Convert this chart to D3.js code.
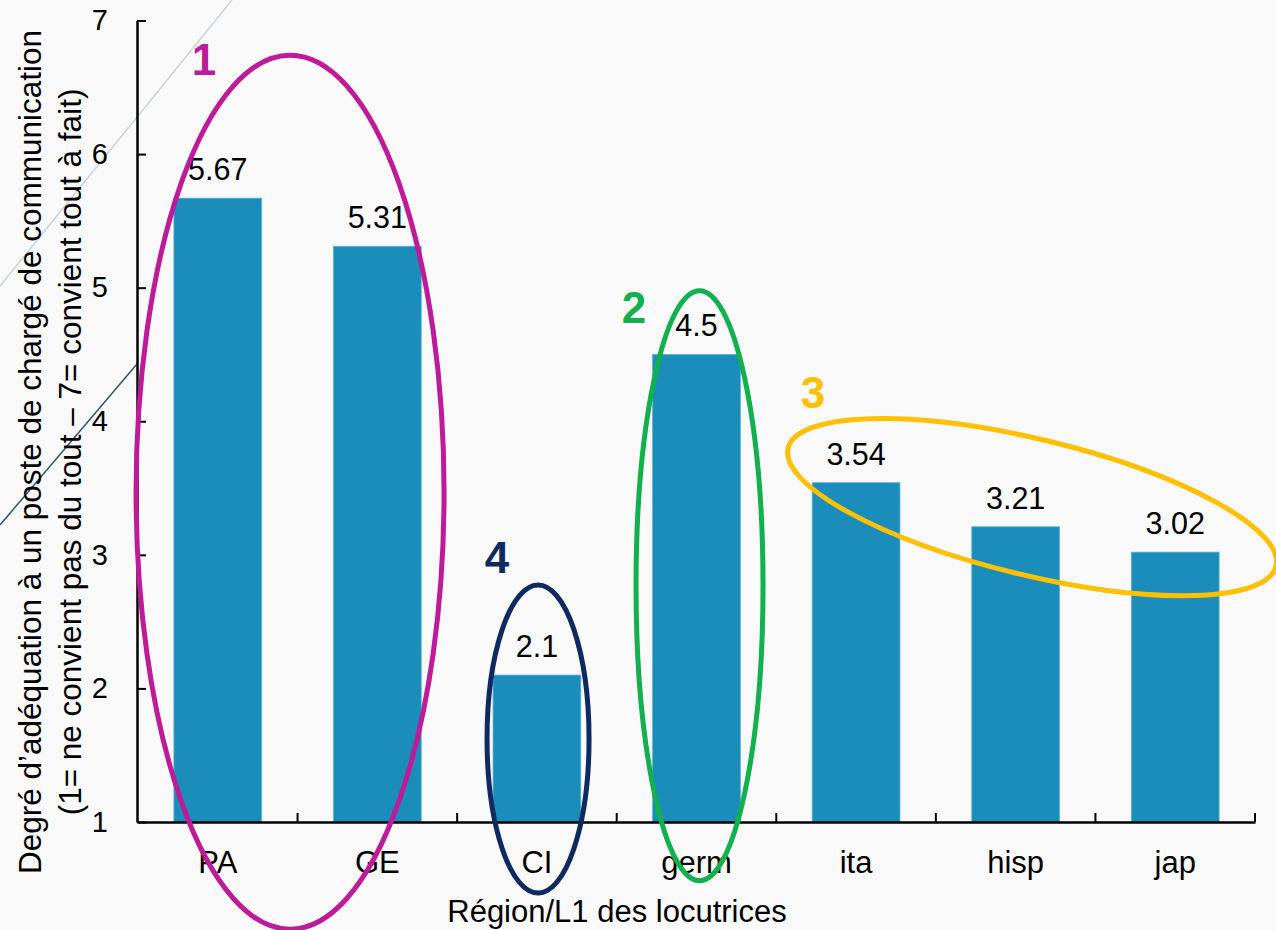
<!DOCTYPE html>
<html>
<head>
<meta charset="utf-8">
<script src="https://cdn.jsdelivr.net/npm/d3@7"></script>
<style>
  html, body { margin: 0; padding: 0; background: #f9f9f9; }
  svg { display: block; font-family: "Liberation Sans", Arial, sans-serif; }
</style>
</head>
<body>
<svg id="chart" width="1276" height="930"></svg>
<script>
// Mean rating per speaker group
const categories = ["PA", "GE", "CI", "germ", "ita", "hisp", "jap"];
const values = [5.67, 5.31, 2.1, 4.5, 3.54, 3.21, 3.02];
const yTicks = [1, 2, 3, 4, 5, 6, 7];
const yTitleLines = [
  "Degré d’adéquation à un poste de chargé de communication",
  "(1= ne convient pas du tout – 7= convient tout à fait)"
];
const xTitle = "Région/L1 des locutrices";

// Group annotations: centre given as (category index, rating)
const groupLabels = ["1", "2", "3", "4"];
const groupColors = ["#be1b98", "#12b04e", "#ffc000", "#0f2a60"];
const groupCentre = [[0.453, 3.469], [3.019, 2.769], [5.103, 3.357], [2.007, 1.621]];
const groupRadii = [[154, 437], [63.5, 295], [251, 68], [51, 154]];
const groupAngle = [0, 0, 13.6, 0];
const groupLabelPos = [[-0.087, 6.59], [2.608, 4.735], [3.73, 4.1], [1.75, 2.865]];

const svg = d3.select("#chart");
const W = 1276, H = 930;
const plot = { left: 138, right: 1255, top: 20.5, bottom: 822 };

svg.append("rect").attr("width", W).attr("height", H).attr("fill", "#f9f9f9");

// Slide decoration lines in the upper-left corner
const deco = svg.append("g");
deco.append("line").attr("x1", 232).attr("y1", 0).attr("x2", 0).attr("y2", 286)
  .attr("stroke", "#c9d3da").attr("stroke-width", 1.5);
deco.append("line").attr("x1", 137).attr("y1", 364).attr("x2", 0).attr("y2", 525)
  .attr("stroke", "#2f566f").attr("stroke-width", 1.5);

const x = d3.scaleBand().domain(categories).range([plot.left, plot.right]).padding(0);
const y = d3.scaleLinear().domain([1, 7]).range([plot.bottom, plot.top]);
const barW = x.bandwidth() * 0.55;
const idxX = i => plot.left + (i + 0.5) * x.step();

// Bars
svg.append("g").selectAll("rect").data(values).join("rect")
  .attr("x", (d, i) => x(categories[i]) + (x.bandwidth() - barW) / 2)
  .attr("y", d => y(d))
  .attr("width", barW)
  .attr("height", d => y(1) - y(d))
  .attr("fill", "#1a8dbb")
  .attr("stroke", "#5fb0d4")
  .attr("stroke-width", 0.8);

// Value labels
svg.append("g").selectAll("text").data(values).join("text")
  .attr("x", (d, i) => x(categories[i]) + x.bandwidth() / 2)
  .attr("y", d => y(d) - 18)
  .attr("text-anchor", "middle")
  .attr("font-size", 30.5)
  .attr("fill", "#000")
  .text(d => d3.format("")(d));

// Y axis
const yAxis = svg.append("g").attr("transform", `translate(${plot.left - 1},0)`)
  .call(d3.axisLeft(y).tickValues(yTicks).tickFormat(d3.format("d"))
    .tickSizeInner(-9).tickSizeOuter(0).tickPadding(29));
yAxis.select(".domain").attr("stroke", "#000").attr("stroke-width", 2.5);
yAxis.selectAll(".tick line").attr("stroke", "#000").attr("stroke-width", 2);
yAxis.selectAll(".tick text").attr("font-size", 29).attr("fill", "#000")
  .attr("font-family", "Liberation Sans, Arial, sans-serif");

// X axis with labels under bars and ticks between categories
const xAxis = svg.append("g").attr("transform", `translate(0,${plot.bottom})`)
  .call(d3.axisBottom(x).tickSizeInner(0).tickSizeOuter(0).tickPadding(29));
xAxis.select(".domain").attr("stroke", "#000").attr("stroke-width", 2.5);
xAxis.selectAll(".tick text").attr("font-size", 31).attr("fill", "#000")
  .attr("font-family", "Liberation Sans, Arial, sans-serif");
xAxis.selectAll(".boundary").data(d3.range(1, categories.length + 1)).join("line")
  .attr("class", "boundary")
  .attr("x1", i => plot.left + i * x.step()).attr("x2", i => plot.left + i * x.step())
  .attr("y1", 0).attr("y2", -9)
  .attr("stroke", "#000").attr("stroke-width", 2);

// Axis titles
const yt = svg.append("text")
  .attr("transform", "translate(41,452) rotate(-90)")
  .attr("text-anchor", "middle")
  .attr("font-size", 31.5)
  .attr("fill", "#000");
yt.selectAll("tspan").data(yTitleLines).join("tspan")
  .attr("x", 0).attr("dy", (d, i) => i === 0 ? 0 : 39.5)
  .text(d => d);

svg.append("text")
  .attr("x", 617).attr("y", 922)
  .attr("text-anchor", "middle")
  .attr("font-size", 31)
  .attr("fill", "#000")
  .text(xTitle);

// Group ellipses and numbers
const ann = svg.append("g");
ann.selectAll("ellipse").data(groupLabels).join("ellipse")
  .attr("transform", (d, i) =>
    `translate(${idxX(groupCentre[i][0])},${y(groupCentre[i][1])}) rotate(${groupAngle[i]})`)
  .attr("rx", (d, i) => groupRadii[i][0])
  .attr("ry", (d, i) => groupRadii[i][1])
  .attr("fill", "none")
  .attr("stroke", (d, i) => groupColors[i])
  .attr("stroke-width", 5);
ann.selectAll("text").data(groupLabels).join("text")
  .attr("x", (d, i) => idxX(groupLabelPos[i][0]))
  .attr("y", (d, i) => y(groupLabelPos[i][1]))
  .attr("text-anchor", "middle")
  .attr("font-size", 44)
  .attr("font-weight", "bold")
  .attr("fill", (d, i) => groupColors[i])
  .text(d => d);
</script>
</body>
</html>
